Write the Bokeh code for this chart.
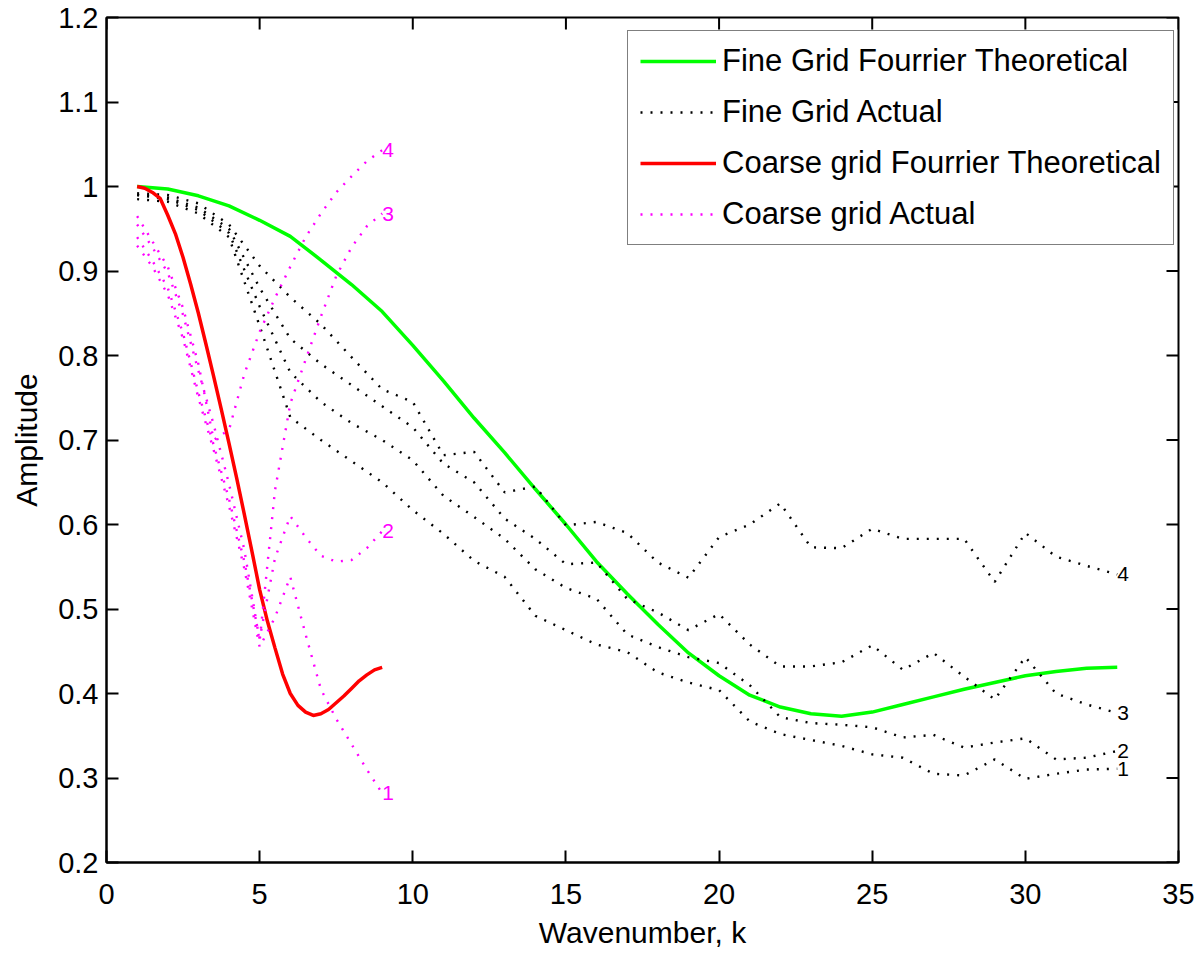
import math

from bokeh.plotting import figure
from bokeh.models import (Legend, LegendItem, FixedTicker, Range1d,
                          CustomJSTickFormatter)
from bokeh.embed import file_html
from bokeh.resources import INLINE
from bokeh.core.properties import value

FONT = "Liberation Sans"

# ---- data -------------------------------------------------------------
# fine grid: wavenumbers 1..33
k_fine = list(range(1, 34))
fine_theory = [1.000, 0.997, 0.989, 0.977, 0.960, 0.941, 0.913, 0.884, 0.852, 0.812,
               0.770, 0.726, 0.685, 0.642, 0.600, 0.556, 0.518, 0.482, 0.448, 0.421,
               0.398, 0.384, 0.376, 0.373, 0.378, 0.387, 0.396, 0.405, 0.413, 0.421,
               0.426, 0.430, 0.431]
fine_actual_1 = [0.985, 0.982, 0.968, 0.940, 0.835, 0.727, 0.700, 0.675, 0.650, 0.617,
                 0.589, 0.557, 0.538, 0.492, 0.475, 0.458, 0.449, 0.425, 0.413, 0.404,
                 0.367, 0.352, 0.345, 0.338, 0.328, 0.324, 0.305, 0.303, 0.322, 0.299,
                 0.305, 0.310, 0.311]
fine_actual_2 = [0.990, 0.985, 0.972, 0.945, 0.858, 0.780, 0.745, 0.720, 0.700, 0.676,
                 0.634, 0.609, 0.583, 0.547, 0.525, 0.512, 0.470, 0.455, 0.443, 0.436,
                 0.410, 0.372, 0.365, 0.363, 0.360, 0.348, 0.351, 0.336, 0.342, 0.347,
                 0.322, 0.324, 0.332]
fine_actual_3 = [0.990, 0.987, 0.975, 0.950, 0.880, 0.820, 0.790, 0.765, 0.740, 0.715,
                 0.672, 0.650, 0.607, 0.583, 0.553, 0.555, 0.512, 0.496, 0.475, 0.494,
                 0.458, 0.432, 0.432, 0.437, 0.457, 0.428, 0.448, 0.420, 0.393, 0.443,
                 0.400, 0.387, 0.377]
fine_actual_4 = [0.992, 0.990, 0.980, 0.955, 0.906, 0.869, 0.837, 0.798, 0.760, 0.745,
                 0.682, 0.686, 0.638, 0.645, 0.599, 0.603, 0.590, 0.555, 0.537, 0.585,
                 0.600, 0.625, 0.573, 0.572, 0.595, 0.583, 0.583, 0.583, 0.532, 0.590,
                 0.562, 0.551, 0.541]

# coarse grid theoretical curve
k_coarse_theory = [1.00, 1.25, 1.50, 1.75, 2.00, 2.25, 2.50, 2.75, 3.00, 3.25, 3.50,
                   3.75, 4.00, 4.25, 4.50, 4.75, 5.00, 5.25, 5.50, 5.75, 6.00, 6.25,
                   6.50, 6.75, 7.00, 7.25, 7.50, 7.75, 8.00, 8.25, 8.50, 8.75, 9.00]
coarse_theory = [1.000, 0.998, 0.993, 0.986, 0.966, 0.944, 0.916, 0.884, 0.850, 0.813,
                 0.775, 0.736, 0.696, 0.655, 0.612, 0.568, 0.523, 0.486, 0.454, 0.423,
                 0.400, 0.386, 0.378, 0.374, 0.376, 0.381, 0.389, 0.397, 0.406, 0.415,
                 0.422, 0.428, 0.431]

# coarse grid measured curves
k_coarse = [1.0, 1.5, 2.0, 2.5, 3.0, 3.5, 4.0, 4.5, 5.0, 5.5, 6.0, 6.5, 7.0, 7.5, 8.0, 8.5, 9.0]
coarse_actual_1 = [0.930, 0.905, 0.872, 0.820, 0.750, 0.688, 0.622, 0.548, 0.455,
                   0.490, 0.538, 0.470, 0.405, 0.370, 0.340, 0.310, 0.282]
coarse_actual_2 = [0.940, 0.912, 0.880, 0.826, 0.756, 0.694, 0.630, 0.556, 0.465,
                   0.560, 0.610, 0.585, 0.563, 0.556, 0.558, 0.572, 0.592]
coarse_actual_3 = [0.955, 0.928, 0.898, 0.848, 0.782, 0.718, 0.648, 0.570, 0.462,
                   0.640, 0.743, 0.795, 0.846, 0.894, 0.928, 0.953, 0.968]
coarse_actual_4 = [0.965, 0.935, 0.905, 0.856, 0.790, 0.700, 0.712, 0.778, 0.828,
                   0.868, 0.905, 0.940, 0.968, 0.993, 1.012, 1.030, 1.043]

curve_tags = ["1", "2", "3", "4"]
x_ticks = [0, 5, 10, 15, 20, 25, 30, 35]
y_ticks = [0.2, 0.3, 0.4, 0.5, 0.6, 0.7, 0.8, 0.9, 1.0, 1.1, 1.2]

legend_labels = ["Fine Grid Fourrier Theoretical", "Fine Grid Actual",
                 "Coarse grid Fourrier Theoretical", "Coarse grid Actual"]

# ---- figure -----------------------------------------------------------
x_min, x_max = 0, 35
y_min, y_max = 0.2, 1.2

p = figure(width=1203, height=955,
           x_range=Range1d(x_min, x_max), y_range=Range1d(y_min, y_max),
           output_backend="svg", toolbar_location=None,
           min_border_left=106, min_border_right=25,
           min_border_top=17, min_border_bottom=93,
           x_axis_label="Wavenumber, k", y_axis_label="Amplitude")
p.background_fill_color = "white"
p.border_fill_color = "white"
p.outline_line_color = "black"
p.outline_line_width = 2
p.grid.visible = False

fmt = CustomJSTickFormatter(code="return String(Math.round(tick*10)/10);")

for ax, ticks in ((p.xaxis[0], x_ticks), (p.yaxis[0], y_ticks)):
    ax.ticker = FixedTicker(ticks=ticks)
    ax.formatter = fmt
    ax.major_tick_in = 12
    ax.major_tick_out = 0
    ax.minor_tick_in = 0
    ax.minor_tick_out = 0
    ax.axis_line_color = "black"
    ax.axis_line_width = 2
    ax.major_tick_line_color = "black"
    ax.major_tick_line_width = 2
    ax.major_label_text_font = FONT
    ax.major_label_text_font_size = "29px"
    ax.major_label_text_color = "black"
    ax.axis_label_text_font = FONT
    ax.axis_label_text_font_size = "30px"
    ax.axis_label_text_font_style = "normal"
    ax.axis_label_text_color = "black"

p.xaxis[0].major_label_standoff = 21
p.xaxis[0].axis_label_standoff = 9
p.yaxis[0].major_label_standoff = 8
p.yaxis[0].axis_label_standoff = 12

# inward tick marks on the top and right edges of the box (the half outside
# the frame is clipped away)
p.scatter(x=x_ticks, y=[y_max] * len(x_ticks), marker="dash", size=24,
          angle=math.pi / 2, line_color="black", line_width=2)
p.scatter(x=[x_max] * len(y_ticks), y=y_ticks, marker="dash", size=24,
          angle=0, line_color="black", line_width=2)

DOT = "2 8"

g_line = p.line(k_fine, fine_theory, line_color="#00ff00", line_width=3.5)

fine_sets = [fine_actual_1, fine_actual_2, fine_actual_3, fine_actual_4]
fine_lines = [p.line(k_fine, ys, line_color="black", line_width=2.4, line_dash=DOT)
              for ys in fine_sets]

r_line = p.line(k_coarse_theory, coarse_theory, line_color="#ff0000", line_width=3.5)

coarse_sets = [coarse_actual_1, coarse_actual_2, coarse_actual_3, coarse_actual_4]
coarse_lines = [p.line(k_coarse, ys, line_color="#ff00ff", line_width=2.4, line_dash=DOT)
                for ys in coarse_sets]

# curve numbers at the end of each measured curve
p.text(x=[k_fine[-1]] * 4, y=[ys[-1] for ys in fine_sets], text=curve_tags,
       text_color="black", text_font=value(FONT), text_font_size="21px",
       text_align="left", text_baseline="middle")
p.text(x=[k_coarse[-1]] * 4, y=[ys[-1] for ys in coarse_sets], text=curve_tags,
       text_color="#ff00ff", text_font=value(FONT), text_font_size="21px",
       text_align="left", text_baseline="middle")

legend = Legend(items=[
    LegendItem(label=legend_labels[0], renderers=[g_line]),
    LegendItem(label=legend_labels[1], renderers=[fine_lines[0]]),
    LegendItem(label=legend_labels[2], renderers=[r_line]),
    LegendItem(label=legend_labels[3], renderers=[coarse_lines[0]]),
], location=(521, 617))
legend.margin = 0
legend.padding = 12
legend.spacing = 15
legend.glyph_width = 76
legend.glyph_height = 36
legend.label_height = 36
legend.label_standoff = 6
legend.label_text_font = FONT
legend.label_text_font_size = "31px"
legend.label_text_color = "black"
legend.border_line_color = "black"
legend.border_line_width = 1.5
legend.background_fill_color = "white"
legend.background_fill_alpha = 1.0
p.add_layout(legend)

open("out.html", "w").write(file_html(p, INLINE))
